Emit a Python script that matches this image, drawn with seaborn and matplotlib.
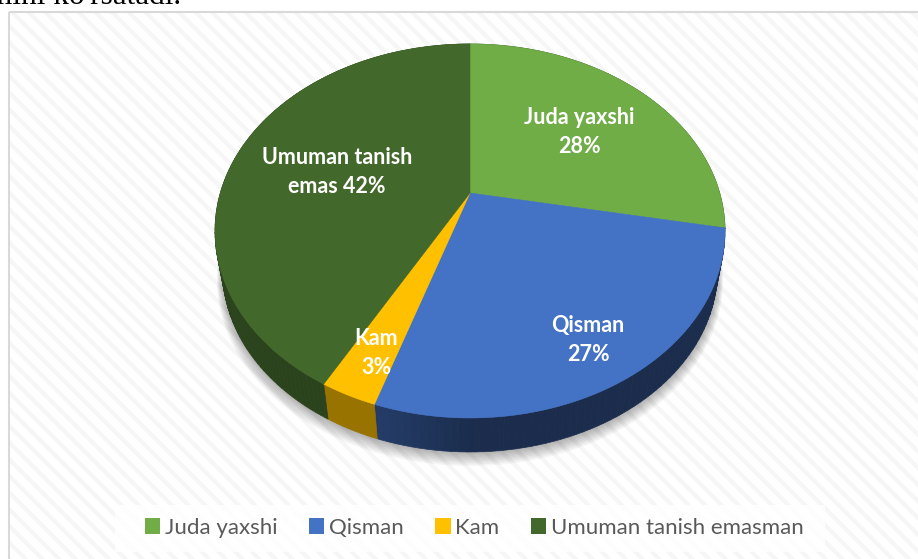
import numpy as np
import matplotlib
matplotlib.use('Agg')
import matplotlib.pyplot as plt
import seaborn as sns
from matplotlib.patches import Patch, Polygon, Rectangle
from matplotlib.transforms import Affine2D

categories = ['Juda yaxshi', 'Qisman', 'Kam', 'Umuman tanish emasman']
shares = [28, 27, 3, 42]
slice_labels = ['Juda yaxshi\n28%', 'Qisman\n27%', 'Kam\n3%', 'Umuman tanish\nemas 42%']
label_xy = [(579, 132), (588, 340), (376, 353), (337, 172)]
slice_colors = ['#70ad47', '#4472c4', '#ffc000', '#43682b']
side_dark = [0.55, 0.39, 0.60, 0.64]

sns.set_theme(style='white')
plt.rcParams['font.family'] = ['Lato', 'DejaVu Sans']
plt.rcParams['hatch.linewidth'] = 3.0

fig = plt.figure(figsize=(9.18, 5.59), dpi=100)
ax = fig.add_axes([0, 0, 1, 1])

# pie gives the wedge shapes, they get tilted afterwards
wedges, _ = ax.pie(shares, startangle=90, counterclock=False, colors=slice_colors)
flat = []
for w in wedges:
    p = w.get_patch_transform().transform_path(w.get_path())
    flat.append(p.to_polygons(Affine2D().scale(2000), closed_only=False)[0] / 2000)
    w.remove()

ax.set_aspect('auto')
ax.set_xlim(0, 918)
ax.set_ylim(559, 0)
ax.axis('off')

# perspective of the 3d pie
cx, cy, a, b, k = 470, 193, 249.7, 179.3, 0.203
low_scale, low_drop = 0.97, 40.75


def tilt(pts, scale=1.0, drop=0.0):
    pts = np.asarray(pts)
    w = 1 + k * pts[:, 1]
    return np.column_stack([cx + scale * a * pts[:, 0] / w,
                            cy - scale * b * pts[:, 1] / w + drop])


# chart area
ax.add_patch(Rectangle((9, 12), 920, 560, facecolor='white', edgecolor='none', zorder=0))
ax.add_patch(Rectangle((9, 12), 920, 560, facecolor='none', edgecolor='#f6f6f6', lw=0,
                       hatch='\\\\', zorder=0.5))
ax.add_patch(Rectangle((9, 12), 920, 560, facecolor='none', edgecolor='#d9d9d9', lw=1.5, zorder=0.6))

# soft shadow under the pie
t = np.linspace(0, 2 * np.pi, 240)
circle = np.column_stack([np.cos(t), np.sin(t)])
for i in range(9):
    ax.add_patch(Polygon(tilt(circle, low_scale + 0.0025 * (9 - i), low_drop + 1.0 * (9 - i)),
                         closed=True, facecolor='black', edgecolor='none', alpha=0.035, zorder=1))

# side wall, strip by strip
for pts, col, dark in zip(flat, slice_colors, side_dark):
    rim = pts[np.hypot(pts[:, 0], pts[:, 1]) > 0.99]
    rim = rim[np.argsort(np.arctan2(rim[:, 1], rim[:, 0]))]
    # keep order along the arc when it crosses the -x axis
    gaps = np.hypot(*np.diff(rim, axis=0).T)
    if gaps.size and gaps.max() > 0.5:
        cut = gaps.argmax() + 1
        rim = np.vstack([rim[cut:], rim[:cut]])
    top = tilt(rim)
    low = tilt(rim, low_scale, low_drop)
    base = np.array(matplotlib.colors.to_rgb(col))
    for j in range(len(rim) - 1):
        xm = top[j, 0]
        f = dark + 0.13 * np.clip((470 - xm) / 90, 0, 1) if dark < 0.5 else dark
        quad = [top[j], top[j + 1], low[j + 1], low[j]]
        ax.add_patch(Polygon(quad, closed=True, facecolor=base * f, edgecolor=base * f,
                             lw=0.5, zorder=2))

# top faces
for pts, col in zip(flat, slice_colors):
    ax.add_patch(Polygon(tilt(pts), closed=True, facecolor=col, edgecolor=col, lw=0.4, zorder=3))

for txt, (x, y) in zip(slice_labels, label_xy):
    ax.text(x, y, txt, color='white', fontsize=15.5, fontweight='bold', ha='center',
            va='center', linespacing=1.42, zorder=5)

handles = [Patch(facecolor=c, edgecolor='none') for c in slice_colors]
ax.add_patch(Rectangle((115, 505), 710, 47, facecolor='white', edgecolor='none', alpha=0.8, zorder=4))
leg = ax.legend(handles, categories, loc='center', bbox_to_anchor=(474, 528),
                bbox_transform=ax.transData, ncol=4, frameon=False, fontsize=16,
                handlelength=0.7, handleheight=0.7, handletextpad=0.2, columnspacing=1.42,
                labelcolor='#595959')
leg.set_zorder(5)

# end of the sentence above the chart
ax.text(-12, 3.5, "mini ko'rsatadi.", family='Liberation Serif', fontsize=22.5, color='black',
        ha='left', va='baseline', zorder=6)

fig.savefig('out.png', dpi=100)
